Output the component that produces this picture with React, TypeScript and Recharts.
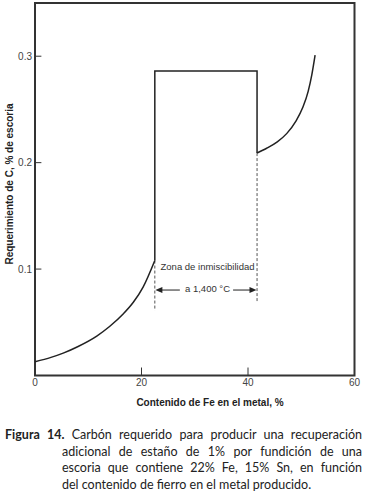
import { LineChart, Line, XAxis, YAxis, ReferenceLine, ReferenceArea, ReferenceDot } from 'recharts';

// Contenido de Fe (%) vs requerimiento de C (% de escoria)
const leftCurve = [
  { fe: 0, c: 0.013 },
  { fe: 3, c: 0.017 },
  { fe: 5.3, c: 0.021 },
  { fe: 8, c: 0.027 },
  { fe: 11.6, c: 0.037 },
  { fe: 14, c: 0.046 },
  { fe: 16.6, c: 0.058 },
  { fe: 18.5, c: 0.069 },
  { fe: 20.3, c: 0.083 },
  { fe: 22.5, c: 0.108 },
];

const gapBox = [
  { fe: 22.5, c: 0.108 },
  { fe: 22.5, c: 0.286 },
  { fe: 41.7, c: 0.286 },
  { fe: 41.7, c: 0.209 },
];

const rightCurve = [
  { fe: 41.7, c: 0.209 },
  { fe: 43.5, c: 0.2135 },
  { fe: 45.5, c: 0.2195 },
  { fe: 47.3, c: 0.2275 },
  { fe: 49.0, c: 0.239 },
  { fe: 50.3, c: 0.252 },
  { fe: 51.3, c: 0.267 },
  { fe: 52.0, c: 0.283 },
  { fe: 52.6, c: 0.301 },
];

const xTicks = [0, 20, 40, 60];
const yTicks = [0.1, 0.2, 0.3];
const zoneStart = 22.5;
const zoneEnd = 41.7;

const INK = '#222';
const AXIS_FONT = '"Liberation Sans", Arial, sans-serif';

const arrowHead = (dir: number) => (props: any) => {
  const { cx, cy } = props;
  return (
    <path
      d={`M${cx},${cy} L${cx - dir * 7},${cy - 3} L${cx - dir * 7},${cy + 3} Z`}
      fill={INK}
    />
  );
};

const note = (text: string) => (props: any) => (
  <text
    x={props.cx}
    y={props.cy}
    textAnchor="middle"
    dominantBaseline="central"
    fontSize={9.5}
    fontFamily={AXIS_FONT}
    fill="#333"
  >
    {text}
  </text>
);

export default function App() {
  return (
    <div style={{ position: 'absolute', left: 0, top: 0, width: 368, height: 493, background: '#fff' }}>
      <LineChart width={368} height={420} margin={{ top: 3, right: 13.5, left: 0, bottom: 0 }}>
        <XAxis
          type="number"
          dataKey="fe"
          domain={[0, 60]}
          ticks={xTicks}
          axisLine={false}
          tickLine={false}
          tickSize={0}
          tickMargin={3}
          height={44.5}
          tick={{ fontSize: 10, fill: '#444', fontFamily: AXIS_FONT }}
          label={{
            content: () => (
              <text x={210} y={406} textAnchor="middle" fontSize={10} fontWeight="bold" fontFamily={AXIS_FONT} fill={INK}>
                Contenido de Fe en el metal, %
              </text>
            ),
          }}
        />
        <YAxis
          type="number"
          domain={[0, 0.35]}
          ticks={yTicks}
          axisLine={false}
          tickLine={false}
          tickSize={0}
          tickMargin={3}
          width={35}
          tick={{ fontSize: 10, fill: '#444', fontFamily: AXIS_FONT }}
          label={{
            content: () => (
              <text
                x={9}
                y={184}
                transform="rotate(-90 9 184)"
                textAnchor="middle"
                dominantBaseline="central"
                fontSize={10}
                fontWeight="bold"
                fontFamily={AXIS_FONT}
                fill={INK}
              >
                Requerimiento de C, % de escoria
              </text>
            ),
          }}
        />
        <ReferenceArea x1={0} x2={60} y1={0} y2={0.35} fill="none" stroke="#333" strokeWidth={2} ifOverflow="visible" />
        {yTicks.map((t) => (
          <ReferenceLine key={'y' + t} segment={[{ x: 0, y: t }, { x: 1.2, y: t }]} stroke="#333" strokeWidth={1} />
        ))}
        {xTicks.slice(1, 3).map((t) => (
          <ReferenceLine key={'x' + t} segment={[{ x: t, y: 0 }, { x: t, y: 0.0075 }]} stroke="#333" strokeWidth={1} />
        ))}
        <ReferenceLine segment={[{ x: zoneStart, y: 0.108 }, { x: zoneStart, y: 0.061 }]} stroke="#555" strokeDasharray="3 2" />
        <ReferenceLine segment={[{ x: zoneEnd, y: 0.209 }, { x: zoneEnd, y: 0.069 }]} stroke="#555" strokeDasharray="3 2" />
        <ReferenceLine segment={[{ x: 23.4, y: 0.0803 }, { x: 27.2, y: 0.0803 }]} stroke="#444" strokeWidth={1.2} />
        <ReferenceLine segment={[{ x: 37.2, y: 0.0803 }, { x: 41.0, y: 0.0803 }]} stroke="#444" strokeWidth={1.2} />
        <ReferenceDot x={zoneStart + 0.1} y={0.0803} r={0} shape={arrowHead(-1)} />
        <ReferenceDot x={zoneEnd - 0.1} y={0.0803} r={0} shape={arrowHead(1)} />
        <ReferenceDot x={32.4} y={0.1028} r={0} shape={note('Zona de inmiscibilidad')} />
        <ReferenceDot x={32.4} y={0.0822} r={0} shape={note('a 1,400 °C')} />
        <Line data={leftCurve} dataKey="c" type="monotone" stroke={INK} strokeWidth={1.5} dot={false} isAnimationActive={false} />
        <Line data={gapBox} dataKey="c" type="linear" stroke={INK} strokeWidth={1.5} dot={false} isAnimationActive={false} />
        <Line data={rightCurve} dataKey="c" type="monotone" stroke={INK} strokeWidth={1.5} dot={false} isAnimationActive={false} />
      </LineChart>
      <div
        style={{
          position: 'absolute',
          left: 5,
          top: 427,
          width: 357,
          fontFamily: 'Lato, "Open Sans", sans-serif',
          fontSize: 12.5,
          lineHeight: '16.5px',
          color: '#222',
        }}
      >
        <div style={{ textAlign: 'justify', textAlignLast: 'justify' }}>
          <b>Figura 14.</b> Carbón requerido para producir una recuperación
        </div>
        <div style={{ paddingLeft: 57, textAlign: 'justify', textAlignLast: 'justify' }}>
          adicional de estaño de 1% por fundición de una
        </div>
        <div style={{ paddingLeft: 57, textAlign: 'justify', textAlignLast: 'justify' }}>
          escoria que contiene 22% Fe, 15% Sn, en función
        </div>
        <div style={{ paddingLeft: 57, textAlign: 'left' }}>del contenido de fierro en el metal producido.</div>
      </div>
    </div>
  );
}
